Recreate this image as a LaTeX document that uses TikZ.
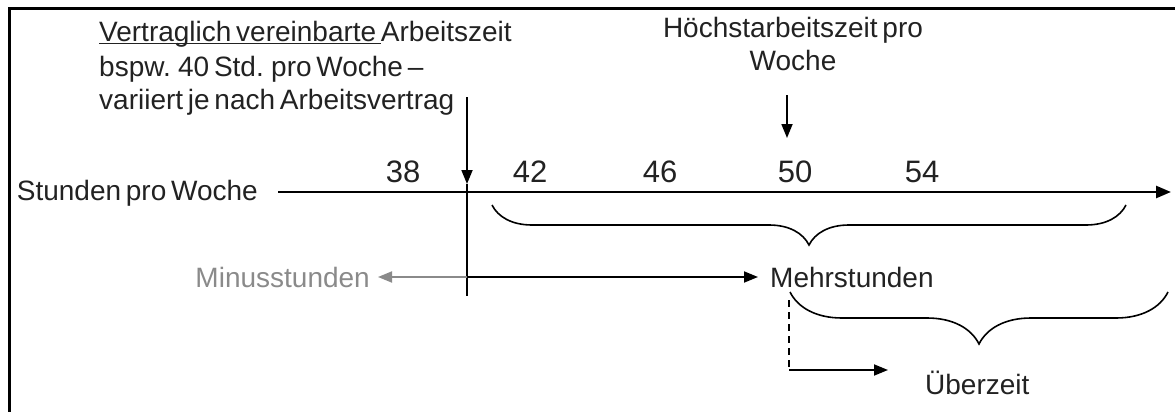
\documentclass[tikz,border=0pt]{standalone}
\usepackage{fontspec}
\setmainfont{Liberation Sans}
\usetikzlibrary{arrows.meta,decorations.pathreplacing}
\definecolor{ink}{HTML}{222222}
\definecolor{minus}{HTML}{8A8A8A}
\newcommand\ulabel[1]{\setbox0\hbox{#1}\rlap{\rule[-2.5pt]{\wd0}{1.3pt}}\box0}
\newcommand\labelfont{\fontsize{28}{33}\selectfont\spaceskip=.17em plus .05em minus .03em\relax}

\begin{document}
\begin{tikzpicture}[x=1pt,y=-1pt,
  label text/.style={font=\labelfont, text=ink, inner sep=0pt},
  tick/.style={font=\fontsize{31}{36}\selectfont, text=ink, inner sep=0pt, anchor=base},
  frame/.style={line width=3pt, black},
  axisline/.style={line width=2.6pt, -{Triangle[length=15pt,width=12pt]}},
  pointer/.style={line width=1.8pt, -{Triangle[length=14pt,width=11pt]}},
  plainline/.style={line width=1.8pt},
  curly/.style={line width=1.6pt, decorate, decoration={brace, amplitude=#1}},
]
\useasboundingbox (0,0) rectangle (1175,412);

% frame edges
\draw[frame] (9,412) -- (9,9) -- (1175,9);

% upper labels
\node[label text, anchor=north west, align=left] (contract) at (99,21)
  {\ulabel{Vertraglich vereinbarte\,}Arbeitszeit\\[2pt]
   bspw. 40 Std. pro Woche –\\
   variiert je nach Arbeitsvertrag};
\node[label text, anchor=north, align=center] (maxhours) at (793,17)
  {Höchstarbeitszeit pro\\Woche};

% time axis
\node[label text, anchor=base east] (axislabel) at (258,200) {Stunden pro Woche};
\coordinate (axstart) at (278,192);
\coordinate (axend) at (1171,192);
\draw[axisline] (axstart) -- (axend);

\node[tick] (t38) at (403,182) {38};
\node[tick] (t42) at (530,182) {42};
\node[tick] (t46) at (660,182) {46};
\node[tick] (t50) at (795,182) {50};
\node[tick] (t54) at (922,182) {54};

% contractual hours marker
\coordinate (ctop) at (467,97);
\coordinate (ctip) at (467,184);
\coordinate (cbot) at (467,296);
\draw[pointer] (ctop) -- (ctip);
\draw[plainline] (ctip) -- (cbot);

% maximum hours marker
\coordinate (mtop) at (787,95);
\coordinate (mtip) at (787,138);
\draw[pointer] (mtop) -- (mtip);

% first brace
\coordinate (b1r) at (1126,205);
\coordinate (b1l) at (492,205);
\draw[curly=40pt] (b1r) -- (b1l);

% minus and plus hours
\coordinate (split) at (467,277);
\node[label text, anchor=base east, text=minus] (minusnode) at (370,287) {Minusstunden};
\node[label text, anchor=base west] (plusnode) at (770,287) {Mehrstunden};
\draw[pointer, minus] (split) -- ([xshift=8pt]minusnode.east |- split);
\draw[pointer] (split) -- ([xshift=-12pt]plusnode.west |- split);

% second brace
\coordinate (b2r) at (1168,292);
\coordinate (b2l) at (790,292);
\draw[curly=52pt] (b2r) -- (b2l);

% overtime pointer
\coordinate (otop) at (789,300);
\coordinate (ocorner) at (789,370);
\coordinate (otip) at (888,370);
\draw[plainline, dashed, dash pattern=on 7pt off 5pt] (otop) -- (ocorner);
\draw[pointer] (ocorner) -- (otip);
\node[label text, anchor=base west] (overtime) at (925,394) {Überzeit};
\end{tikzpicture}
\end{document}
